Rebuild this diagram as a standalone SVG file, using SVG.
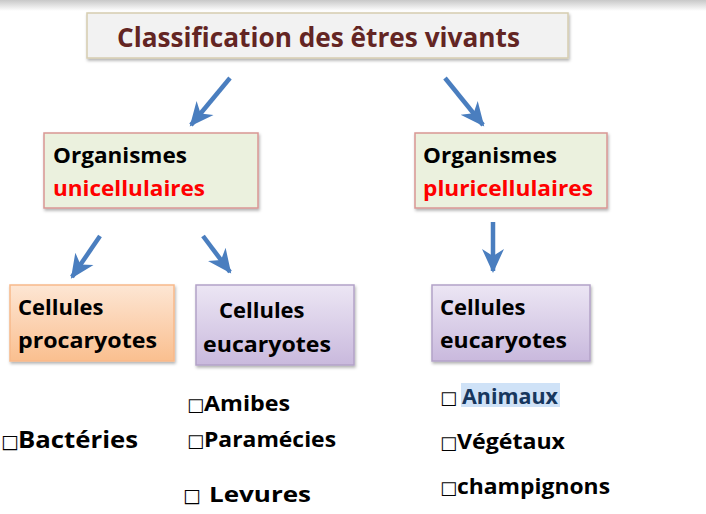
<svg xmlns="http://www.w3.org/2000/svg" width="706" height="514" viewBox="0 0 706 514">
<defs>
<linearGradient id="topband" x1="0" y1="0" x2="0" y2="1"><stop offset="0" stop-color="#c8c8c8"/><stop offset="1" stop-color="#ffffff"/></linearGradient>
<linearGradient id="orange" x1="0" y1="0" x2="0" y2="1"><stop offset="0" stop-color="#fde6d4"/><stop offset="1" stop-color="#fabf8f"/></linearGradient>
<linearGradient id="purple" x1="0" y1="0" x2="0" y2="1"><stop offset="0" stop-color="#ece6f4"/><stop offset="1" stop-color="#c9b9dd"/></linearGradient>
<filter id="sh" x="-5%" y="-5%" width="112%" height="125%"><feDropShadow dx="1" dy="2" stdDeviation="1.5" flood-color="#000" flood-opacity="0.3"/></filter>
<marker id="ah" markerUnits="userSpaceOnUse" markerWidth="26" markerHeight="26" viewBox="0 0 26 26" refX="22" refY="13" orient="auto">
<path d="M0,2 L24,13 L0,24 L7,13 z" fill="#4a7ebf"/>
</marker>
</defs>
<style>
.t{font-family:"Open Sans","Liberation Sans",sans-serif;font-weight:bold;}
.bx{font-family:"DejaVu Sans",sans-serif;font-weight:bold;}
.conn{stroke:#4a7ebf;stroke-width:4.5;fill:none;marker-end:url(#ah);}
</style>
<rect x="0" y="0" width="706" height="11" fill="url(#topband)"/>

<g id="title">
<rect x="87" y="13" width="481" height="45" fill="#f2f2f2" stroke="#d6cdb0" stroke-width="1.5" filter="url(#sh)"/>
<text class="t" x="117" y="47" font-size="26" fill="#632523" textLength="403" lengthAdjust="spacingAndGlyphs">Classification des êtres vivants</text>
</g>

<g id="connectors">
<line class="conn" x1="230" y1="78" x2="191" y2="125"/>
<line class="conn" x1="445" y1="78" x2="483" y2="125"/>
<line class="conn" x1="100" y1="236" x2="72" y2="277"/>
<line class="conn" x1="203" y1="236" x2="230" y2="272"/>
<line class="conn" x1="493" y1="222" x2="493" y2="271"/>
</g>

<g id="uni">
<rect x="44" y="133" width="214" height="75" fill="#ebf1de" stroke="#d99694" stroke-width="1.5" filter="url(#sh)"/>
<text class="t" x="53" y="163" font-size="22" fill="#000" textLength="134" lengthAdjust="spacingAndGlyphs">Organismes</text>
<text class="t" x="53" y="196" font-size="22" fill="#ff0000" textLength="152" lengthAdjust="spacingAndGlyphs">unicellulaires</text>
</g>

<g id="pluri">
<rect x="415" y="133" width="192" height="75" fill="#ebf1de" stroke="#d99694" stroke-width="1.5" filter="url(#sh)"/>
<text class="t" x="423" y="163" font-size="22" fill="#000" textLength="134" lengthAdjust="spacingAndGlyphs">Organismes</text>
<text class="t" x="423" y="196" font-size="22" fill="#ff0000" textLength="170" lengthAdjust="spacingAndGlyphs">pluricellulaires</text>
</g>

<g id="procaryotes">
<rect x="10" y="285" width="164" height="76" fill="url(#orange)" stroke="#f8b98a" stroke-width="1.5" filter="url(#sh)"/>
<text class="t" x="18" y="315" font-size="22" fill="#000">Cellules</text>
<text class="t" x="18" y="348" font-size="22" fill="#000" textLength="139" lengthAdjust="spacingAndGlyphs">procaryotes</text>
</g>

<g id="eucaryotes1">
<rect x="196" y="285" width="158" height="80" fill="url(#purple)" stroke="#b3a2c7" stroke-width="1.5" filter="url(#sh)"/>
<text class="t" x="219" y="318" font-size="22" fill="#000">Cellules</text>
<text class="t" x="203" y="352" font-size="22" fill="#000" textLength="128" lengthAdjust="spacingAndGlyphs">eucaryotes</text>
</g>

<g id="eucaryotes2">
<rect x="432" y="285" width="158" height="76" fill="url(#purple)" stroke="#b3a2c7" stroke-width="1.5" filter="url(#sh)"/>
<text class="t" x="440" y="315" font-size="22" fill="#000">Cellules</text>
<text class="t" x="440" y="348" font-size="22" fill="#000" textLength="127" lengthAdjust="spacingAndGlyphs">eucaryotes</text>
</g>

<g id="list-procaryotes">
<text class="t" x="1" y="448" font-size="23" fill="#000"><tspan class="bx" font-size="19">□</tspan><tspan x="18" textLength="120" lengthAdjust="spacingAndGlyphs">Bactéries</tspan></text>
</g>

<g id="list-eucaryotes1">
<text class="t" x="187" y="411" font-size="21" fill="#000"><tspan class="bx" font-size="18">□</tspan><tspan x="204" textLength="86" lengthAdjust="spacingAndGlyphs">Amibes</tspan></text>
<text class="t" x="187" y="447" font-size="21" fill="#000"><tspan class="bx" font-size="18">□</tspan><tspan x="204" textLength="132" lengthAdjust="spacingAndGlyphs">Paramécies</tspan></text>
<text class="t" x="183" y="502" font-size="22" fill="#000"><tspan class="bx" font-size="19">□</tspan><tspan x="209" textLength="102" lengthAdjust="spacingAndGlyphs">Levures</tspan></text>
</g>

<g id="list-eucaryotes2">
<rect x="461" y="383" width="99" height="24" fill="#cfe2f7"/>
<text class="t" x="440" y="404" font-size="21" fill="#000"><tspan class="bx" font-size="18">□</tspan><tspan x="462" fill="#17375e" textLength="96" lengthAdjust="spacingAndGlyphs">Animaux</tspan></text>
<text class="t" x="440" y="449" font-size="21" fill="#000"><tspan class="bx" font-size="18">□</tspan><tspan x="457" textLength="108" lengthAdjust="spacingAndGlyphs">Végétaux</tspan></text>
<text class="t" x="440" y="494" font-size="21" fill="#000"><tspan class="bx" font-size="18">□</tspan><tspan x="457" textLength="153" lengthAdjust="spacingAndGlyphs">champignons</tspan></text>
</g>
</svg>
